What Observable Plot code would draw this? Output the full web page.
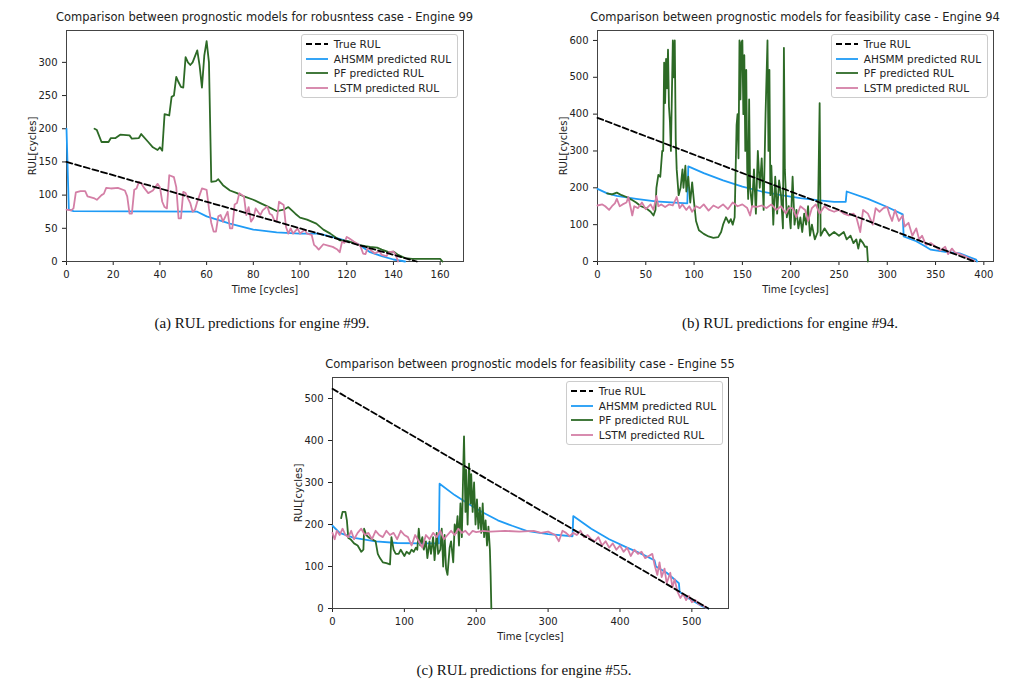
<!DOCTYPE html>
<html><head><meta charset="utf-8">
<script src="https://cdn.jsdelivr.net/npm/d3@7"></script>
<script src="https://cdn.jsdelivr.net/npm/@observablehq/plot@0.6"></script>
<style>
body{margin:0;background:#fff;}
#root{position:relative;width:1026px;height:694px;font-family:"DejaVu Sans",sans-serif;}
.abs{position:absolute;}
.title{font-size:11.5px;color:#222;white-space:nowrap;transform:translateX(-50%);}
.cap{font-family:"Liberation Serif",serif;font-size:15px;color:#111;white-space:nowrap;transform:translateX(-50%);}
.leg{border:1px solid #ccc;border-radius:3px;background:#fff;font-size:10.5px;color:#222;padding:2px 6px 2px 4px;}
.leg div{height:14.5px;display:flex;align-items:center;}
.leg svg{margin-right:6px;}
</style></head><body><div id="root"></div>
<script>
// ---------- data ----------
const a_true=[[0,150],[150,0]];
const a_ahsmm=[[0,200],[1,78],[3,76],[56,75],[60,68],[70,57],[80,48],[90,44],[100,42],[108,42],[115,36],[125,26],[130,14],[135,8],[140,3],[145,0]];
const a_pf=[[12,200],[13,198],[15,180],[18,180],[19,186],[21,186],[23,191],[27,190],[28,185],[31,186],[32,192],[35,180],[37,172],[39,168],[40,172],[41,167],[42,222],[44,220],[45,248],[46,250],[47,278],[48,270],[49,263],[50,262],[51,308],[52,300],[53,296],[54,300],[56,318],[57,295],[58,262],[59,310],[60,332],[61,300],[62,120],[64,121],[65,124],[67,115],[70,107],[73,103],[76,98],[80,93],[83,88],[86,83],[90,76],[93,78],[95,82],[98,72],[100,66],[103,63],[107,57],[110,48],[113,42],[117,32],[120,31],[123,28],[125,25],[128,23],[130,22],[133,21],[135,18],[138,14],[140,15],[142,10],[145,5],[148,4],[160,4],[161,0]];
const a_lstm=[[0,78],[2,77],[3,80],[4,104],[6,106],[8,106],[9,98],[12,95],[13,93],[15,100],[16,102],[17,111],[19,110],[22,111],[25,107],[26,98],[27,72],[28,72],[29,108],[30,110],[31,120],[32,118],[33,112],[35,103],[37,107],[39,117],[40,112],[41,90],[42,82],[43,80],[44,130],[46,127],[47,112],[48,65],[49,65],[50,105],[51,103],[52,95],[53,88],[54,75],[55,78],[56,90],[57,100],[58,110],[60,108],[61,80],[62,58],[63,45],[64,45],[65,68],[66,70],[67,60],[69,75],[70,50],[71,50],[72,86],[73,88],[74,103],[76,98],[77,70],[78,82],[79,60],[80,65],[81,80],[83,70],[84,77],[86,83],[87,72],[88,70],[89,62],[90,60],[91,90],[93,85],[94,52],[95,42],[96,50],[97,42],[99,50],[100,42],[102,48],[103,42],[105,40],[106,25],[107,22],[108,18],[110,26],[112,24],[114,22],[116,18],[117,14],[118,30],[119,28],[120,37],[121,35],[123,30],[125,26],[126,22],[127,12],[128,11],[129,20],[130,18],[132,12],[133,14],[134,15],[135,10],[137,8],[138,14],[140,15],[141,10],[142,0]];

const b_true=[[0,390],[390,0]];
const b_ahsmm=[[0,197],[10,185],[20,178],[40,170],[60,163],[80,160],[93,158],[94,258],[110,240],[130,220],[150,203],[170,190],[190,180],[210,172],[230,166],[245,162],[257,162],[258,190],[280,170],[300,148],[316,128],[317,68],[330,55],[340,40],[345,32],[360,26],[375,22],[385,12],[392,5],[393,0]];
const b_pf=[[10,185],[15,182],[20,187],[25,180],[30,175],[35,168],[40,160],[45,150],[50,145],[55,135],[58,125],[60,140],[61,200],[63,235],[65,230],[67,300],[68,300],[69,540],[70,430],[71,550],[72,470],[73,575],[74,420],[75,380],[76,300],[78,600],[79,500],[80,600],[81,330],[82,250],[84,180],[86,200],[88,250],[89,200],[91,260],[92,190],[94,230],[96,160],[98,215],[100,160],[102,110],[105,85],[110,75],[115,68],[120,64],[125,66],[128,80],[130,100],[133,120],[136,105],[138,115],[140,100],[142,120],[144,370],[145,400],[146,280],[147,600],[148,440],[149,595],[150,600],[151,400],[152,560],[153,300],[154,520],[155,250],[156,170],[157,440],[158,200],[160,150],[162,250],[164,130],[166,300],[168,200],[170,280],[172,140],[174,400],[176,600],[177,300],[178,520],[179,180],[180,260],[182,100],[184,230],[186,130],[188,220],[190,180],[192,90],[193,580],[194,250],[196,120],[198,150],[200,90],[202,230],[204,100],[206,140],[208,90],[210,120],[212,80],[214,130],[216,100],[218,150],[220,70],[222,100],[225,60],[228,80],[230,430],[231,70],[235,90],[240,70],[245,80],[250,70],[255,80],[258,60],[262,70],[265,50],[268,60],[270,35],[272,60],[275,50],[277,40],[279,40],[280,0]];
const b_lstm=[[0,152],[5,155],[8,150],[12,140],[15,150],[18,158],[20,170],[23,150],[26,155],[30,160],[32,175],[34,150],[36,125],[38,150],[42,145],[46,160],[50,142],[55,155],[58,140],[61,178],[63,150],[66,155],[70,148],[74,155],[78,152],[82,175],[85,145],[88,155],[92,140],[95,150],[98,135],[102,150],[106,145],[110,155],[115,138],[120,152],[125,145],[130,155],[135,142],[140,160],[145,150],[150,155],[155,145],[158,125],[160,150],[165,148],[170,152],[175,145],[180,155],[185,140],[190,150],[195,130],[198,145],[202,145],[206,120],[210,150],[215,140],[218,110],[222,145],[226,155],[230,130],[235,150],[240,140],[245,135],[250,140],[255,130],[260,125],[265,130],[268,120],[272,80],[275,140],[280,130],[285,100],[288,145],[292,135],[296,145],[300,148],[302,130],[305,110],[308,140],[312,110],[316,125],[318,95],[322,105],[326,70],[330,90],[333,60],[336,70],[340,45],[345,50],[350,40],[355,30],[360,40],[363,20],[367,35],[370,25],[375,20],[380,15],[385,8],[390,2]];

const c_true=[[0,523],[523,0]];
const c_ahsmm=[[0,197],[10,180],[30,168],[60,160],[90,156],[120,155],[148,155],[149,297],[170,270],[190,248],[210,228],[230,210],[250,197],[270,185],[300,177],[334,172],[335,220],[360,190],[385,165],[410,145],[430,130],[448,115],[450,100],[465,85],[482,60],[483,40],[490,30],[500,20],[515,5],[523,0]];
const c_pf=[[12,215],[14,230],[18,230],[20,210],[22,168],[25,165],[30,155],[35,150],[40,135],[43,140],[44,190],[47,175],[50,170],[55,165],[60,160],[63,130],[66,120],[70,110],[75,108],[80,105],[82,170],[85,140],[88,130],[92,130],[95,140],[100,125],[103,135],[107,130],[110,140],[113,135],[116,145],[118,140],[120,190],[122,150],[125,170],[127,140],[130,160],[132,120],[135,160],[137,130],[140,170],[142,115],[145,180],[147,130],[150,140],[152,190],[154,100],[156,175],[158,95],[160,80],[163,145],[165,160],[168,110],[170,200],[172,180],[174,220],[176,150],[178,250],[180,170],[182,340],[183,410],[185,230],[186,330],[188,200],[190,345],[192,250],[193,320],[195,230],[197,300],[199,200],[201,260],[203,190],[205,240],[207,180],[209,250],[211,170],[213,210],[215,150],[217,195],[219,140],[220,80],[221,0]];
const c_lstm=[[0,180],[3,165],[6,185],[10,175],[14,190],[18,175],[22,170],[26,185],[30,165],[35,180],[40,190],[45,175],[50,180],[55,165],[60,185],[65,175],[70,170],[75,185],[80,175],[85,180],[90,165],[95,185],[100,175],[105,170],[110,150],[115,175],[120,160],[125,145],[130,175],[135,165],[140,180],[145,170],[150,185],[155,165],[160,175],[165,185],[170,175],[175,190],[180,180],[185,185],[190,175],[195,185],[200,182],[210,185],[220,183],[240,185],[260,183],[280,185],[290,180],[300,183],[310,175],[315,160],[320,185],[325,180],[330,172],[335,180],[340,175],[345,185],[350,170],[355,175],[360,165],[365,160],[370,170],[375,150],[380,160],[385,145],[390,155],[395,140],[400,150],[405,135],[410,145],[415,125],[420,140],[425,130],[430,135],[435,120],[440,125],[445,130],[448,105],[452,80],[455,110],[458,75],[462,95],[465,60],[470,85],[473,50],[476,70],[480,40],[484,25],[488,35],[492,20],[496,30],[500,15],[505,20],[510,10],[515,8],[520,2]];

const a_xticks=[0,20,40,60,80,100,120,140,160], a_yticks=[0,50,100,150,200,250,300];
const b_xticks=[0,50,100,150,200,250,300,350,400], b_yticks=[0,100,200,300,400,500,600];
const c_xticks=[0,100,200,300,400,500], c_yticks=[0,100,200,300,400,500];
const legendNames=["True RUL","AHSMM predicted RUL","PF predicted RUL","LSTM predicted RUL"];
const colors={true:"#000",ahsmm:"#1f9bf5",pf:"#2d6a26",lstm:"#d47fa6"};

// ---------- render ----------
const root=document.getElementById("root");
const mL=42,mR=8,mT=8,mB=34;
function panel(o){
  const w=o.x1-o.x0,h=o.y1-o.y0;
  const line=(d,c,extra={})=>Plot.line(d,{x:"0",y:"1",stroke:c,strokeWidth:1.8,...extra});
  const p=Plot.plot({
    width:w+mL+mR,height:h+mT+mB,marginLeft:mL,marginRight:mR,marginTop:mT,marginBottom:mB,
    style:{fontFamily:"DejaVu Sans",fontSize:"10px",color:"#222",background:"transparent"},
    x:{domain:o.xd,ticks:o.xt,tickSize:4,label:"Time [cycles]",labelAnchor:"center",labelArrow:"none",labelOffset:31},
    y:{domain:o.yd,ticks:o.yt,tickSize:4,label:"RUL[cycles]",labelAnchor:"center",labelArrow:"none",labelOffset:38},
    marks:[
      Plot.frame({stroke:"#444"}),
      line(o.ahsmm,colors.ahsmm),
      line(o.pf,colors.pf),
      line(o.lstm,colors.lstm),
      line(o.tr,colors.true,{strokeDasharray:"6,3"}),
    ]});
  p.classList.add("abs");p.style.left=(o.x0-mL)+"px";p.style.top=(o.y0-mT)+"px";
  root.appendChild(p);
  const t=document.createElement("div");t.className="abs title";t.textContent=o.title;
  t.style.left=((o.x0+o.x1)/2)+"px";t.style.top=(o.y0-20)+"px";root.appendChild(t);
  const c=document.createElement("div");c.className="abs cap";c.textContent=o.cap;
  c.style.left=o.capx+"px";c.style.top=o.capy+"px";root.appendChild(c);
  const lg=document.createElement("div");lg.className="abs leg";
  lg.style.right=(1026-o.x1+5)+"px";lg.style.top=(o.y0+4)+"px";
  const cs=[colors.true,colors.ahsmm,colors.pf,colors.lstm];
  legendNames.forEach((n,i)=>{
    const r=document.createElement("div");
    r.innerHTML=`<svg width="22" height="6"><line x1="0" x2="22" y1="3" y2="3" stroke="${cs[i]}" stroke-width="1.8" ${i==0?'stroke-dasharray="6,3"':''}/></svg>${n}`;
    lg.appendChild(r);
  });
  root.appendChild(lg);
}
panel({x0:66,x1:463,y0:30,y1:261,xd:[0,170],yd:[0,348],xt:a_xticks,yt:a_yticks,tr:a_true,ahsmm:a_ahsmm,pf:a_pf,lstm:a_lstm,
  title:"Comparison between prognostic models for robusntess case - Engine 99",cap:"(a) RUL predictions for engine #99.",capx:262,capy:315});
panel({x0:597,x1:993,y0:30,y1:261,xd:[0,410],yd:[0,627],xt:b_xticks,yt:b_yticks,tr:b_true,ahsmm:b_ahsmm,pf:b_pf,lstm:b_lstm,
  title:"Comparison between prognostic models for feasibility case - Engine 94",cap:"(b) RUL predictions for engine #94.",capx:790,capy:315});
panel({x0:332,x1:728,y0:377,y1:608,xd:[0,551],yd:[0,550],xt:c_xticks,yt:c_yticks,tr:c_true,ahsmm:c_ahsmm,pf:c_pf,lstm:c_lstm,
  title:"Comparison between prognostic models for feasibility case - Engine 55",cap:"(c) RUL predictions for engine #55.",capx:524,capy:662});
</script></body></html>
